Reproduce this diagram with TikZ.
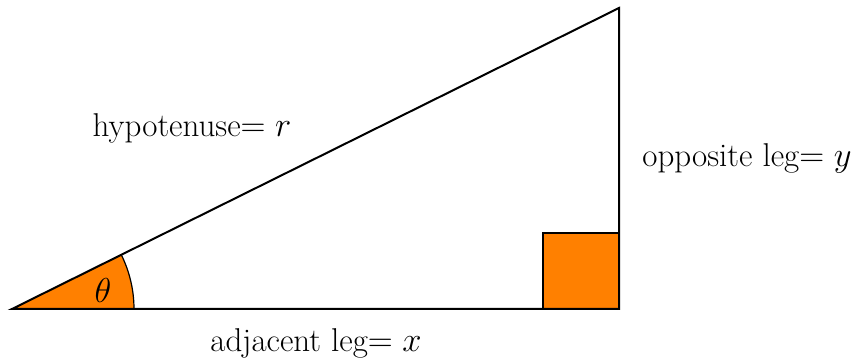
\documentclass[tikz,border=0pt]{standalone}
\begin{document}
\begin{tikzpicture}[x=0.5pt,y=0.5pt,
  edge/.style={line width=1pt,black},
  lbl/.style={inner sep=0pt,font=\fontsize{16.5}{19}\selectfont},
  fillorange/.style={fill={rgb,255:red,255;green,128;blue,0}}]
\useasboundingbox (0,0) rectangle (863,362);
\coordinate (A) at (12,53);
\coordinate (B) at (619,53);
\coordinate (C) at (619,354);
\coordinate (P) at (134,53);
% angle sector
\fill[fillorange] (A) -- (P) arc[start angle=0,end angle=26.38,radius=122] -- cycle;
\draw[line width=0.6pt] (P) arc[start angle=0,end angle=26.38,radius=122];
% right angle square
\draw[edge,fillorange] (543,53) rectangle (619,129);
% triangle
\draw[edge,line join=miter] (A) -- (B) -- (C) -- cycle;
\node[lbl] (h) at (192,234) {hypotenuse$= r$};
\node[lbl] (o) at (747,204) {opposite leg$= y$};
\node[lbl] (a) at (316,19) {adjacent leg$= x$};
\node[lbl] (t) at (103,71) {$\theta$};
\end{tikzpicture}
\end{document}
